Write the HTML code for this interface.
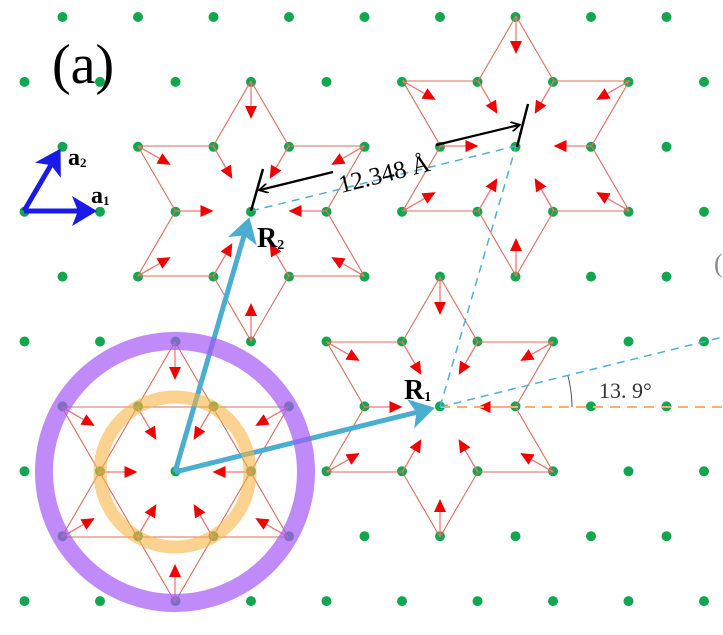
<!DOCTYPE html>
<html><head><meta charset="utf-8"><style>
html,body{margin:0;padding:0;background:#fff;width:723px;height:635px;overflow:hidden}
svg{display:block}
text{font-family:"Liberation Serif",serif}
</style></head><body>
<svg id="s" width="723" height="635" viewBox="0 0 723 635" xmlns="http://www.w3.org/2000/svg">
<defs>
<marker id="cy" markerWidth="6" markerHeight="6" refX="4" refY="3" orient="auto" markerUnits="strokeWidth"><path d="M0,0 L5,3 L0,6 L1.2,3 Z" fill="#4aaed0"/></marker>
<marker id="bl" markerWidth="6" markerHeight="6" refX="4" refY="3" orient="auto" markerUnits="strokeWidth"><path d="M0,0 L5,3 L0,6 L1.2,3 Z" fill="#1a1ae8"/></marker>
<marker id="bk" markerWidth="10" markerHeight="10" refX="8" refY="5" orient="auto" markerUnits="userSpaceOnUse"><path d="M0,0 L9,5 L0,10" fill="none" stroke="#000" stroke-width="1.8"/></marker>
</defs>
<g id="dots"></g>
<g id="stars"></g>
<line x1="440" y1="407" x2="723" y2="407" stroke="#f8b070" stroke-width="2" stroke-dasharray="10,7"/>
<line x1="251" y1="211" x2="516" y2="146" stroke="#50b0d8" stroke-width="1.5" stroke-dasharray="8,6"/>
<line x1="440" y1="407" x2="516" y2="146" stroke="#50b0d8" stroke-width="1.5" stroke-dasharray="8,6"/>
<line x1="440" y1="407" x2="723" y2="337" stroke="#50b0d8" stroke-width="1.5" stroke-dasharray="8,6"/>
<path d="M572,407 A132,132 0 0 0 568,376" fill="none" stroke="#555" stroke-width="1"/>
<text x="599" y="398" font-size="22" fill="#333">13. 9°</text>
<line x1="175" y1="472" x2="248" y2="222" stroke="#4aaed0" stroke-width="5" marker-end="url(#cy)"/>
<line x1="175" y1="472" x2="430" y2="409" stroke="#4aaed0" stroke-width="5" marker-end="url(#cy)"/>
<circle cx="175" cy="472" r="131" fill="none" stroke="rgb(165,90,245)" stroke-opacity="0.7" stroke-width="18"/>
<circle cx="175" cy="472" r="75" fill="none" stroke="rgb(248,180,70)" stroke-opacity="0.6" stroke-width="13"/>
<line x1="24" y1="211" x2="92" y2="211" stroke="#1a1ae8" stroke-width="5" marker-end="url(#bl)"/>
<line x1="24" y1="211" x2="58" y2="153" stroke="#1a1ae8" stroke-width="5" marker-end="url(#bl)"/>
<text x="68" y="165" font-size="24" font-weight="bold">a<tspan font-size="13" dy="2">2</tspan></text>
<text x="91" y="203" font-size="24" font-weight="bold">a<tspan font-size="13" dy="2">1</tspan></text>
<text x="52" y="83" font-size="56">(a)</text>
<text x="257" y="247" font-size="28" font-weight="bold">R<tspan font-size="14" dy="2">2</tspan></text>
<text x="404" y="399" font-size="28" font-weight="bold">R<tspan font-size="14" dy="2">1</tspan></text>
<line x1="251" y1="211" x2="263" y2="169" stroke="#000" stroke-width="2.5"/>
<line x1="517" y1="147" x2="528" y2="104" stroke="#000" stroke-width="2.5"/>
<line x1="333" y1="172" x2="260" y2="190" stroke="#000" stroke-width="2.2" marker-end="url(#bk)"/>
<line x1="436" y1="145" x2="519" y2="125" stroke="#000" stroke-width="2.2" marker-end="url(#bk)"/>
<text x="0" y="0" font-size="25" transform="translate(341,193) rotate(-14)">12.348 Å</text>
<text x="714" y="272" font-size="26" fill="#888">(</text>
</svg>
<script>
const NS="http://www.w3.org/2000/svg";
const dots=document.getElementById('dots'), stars=document.getElementById('stars');
function el(p,tag,a){const e=document.createElementNS(NS,tag);for(const k in a)e.setAttribute(k,a[k]);p.appendChild(e);return e;}
for(let i=0;i<10;i++){const y=17+64.9*i;const x0=i%2?24.5:62.5;for(let x=x0;x<730;x+=75.5)el(dots,'circle',{cx:x,cy:y,r:5,fill:'#12a64e'});}
const a=75.5,h=65;
const tips=[[0,-2*h],[1.5*a,-h],[1.5*a,h],[0,2*h],[-1.5*a,h],[-1.5*a,-h]];
const inn=[[a/2,-h],[a,0],[a/2,h],[-a/2,h],[-a,0],[-a/2,-h]];
function star(cx,cy,full){
  if(full){
    el(stars,'polygon',{points:[tips[0],tips[2],tips[4]].map(p=>(cx+p[0])+','+(cy+p[1])).join(' '),fill:'none',stroke:'#d8705c','stroke-width':1.1});
    el(stars,'polygon',{points:[tips[1],tips[3],tips[5]].map(p=>(cx+p[0])+','+(cy+p[1])).join(' '),fill:'none',stroke:'#d8705c','stroke-width':1.1});
  } else {
    const pts=[];for(let k=0;k<6;k++){pts.push(tips[k]);pts.push(inn[k]);}
    el(stars,'polygon',{points:pts.map(p=>(cx+p[0])+','+(cy+p[1])).join(' '),fill:'none',stroke:'#d8705c','stroke-width':1.1});
  }
  [...tips,...inn].forEach(p=>{
    const d=Math.hypot(p[0],p[1]);const ux=-p[0]/d,uy=-p[1]/d;const L=38,H=13,W=6;
    const sx=cx+p[0],sy=cy+p[1];const ex=sx+ux*L,ey=sy+uy*L;const bx=ex-ux*H,by=ey-uy*H;
    el(stars,'line',{x1:sx,y1:sy,x2:bx,y2:by,stroke:'#f07878','stroke-width':1.3});
    el(stars,'polygon',{points:`${ex},${ey} ${bx-uy*W},${by+ux*W} ${bx+uy*W},${by-ux*W}`,fill:'#f00000'});
  });
}
star(251,211,false);star(516,146,false);star(440,407,false);star(175,472,true);
</script>
</body></html>
